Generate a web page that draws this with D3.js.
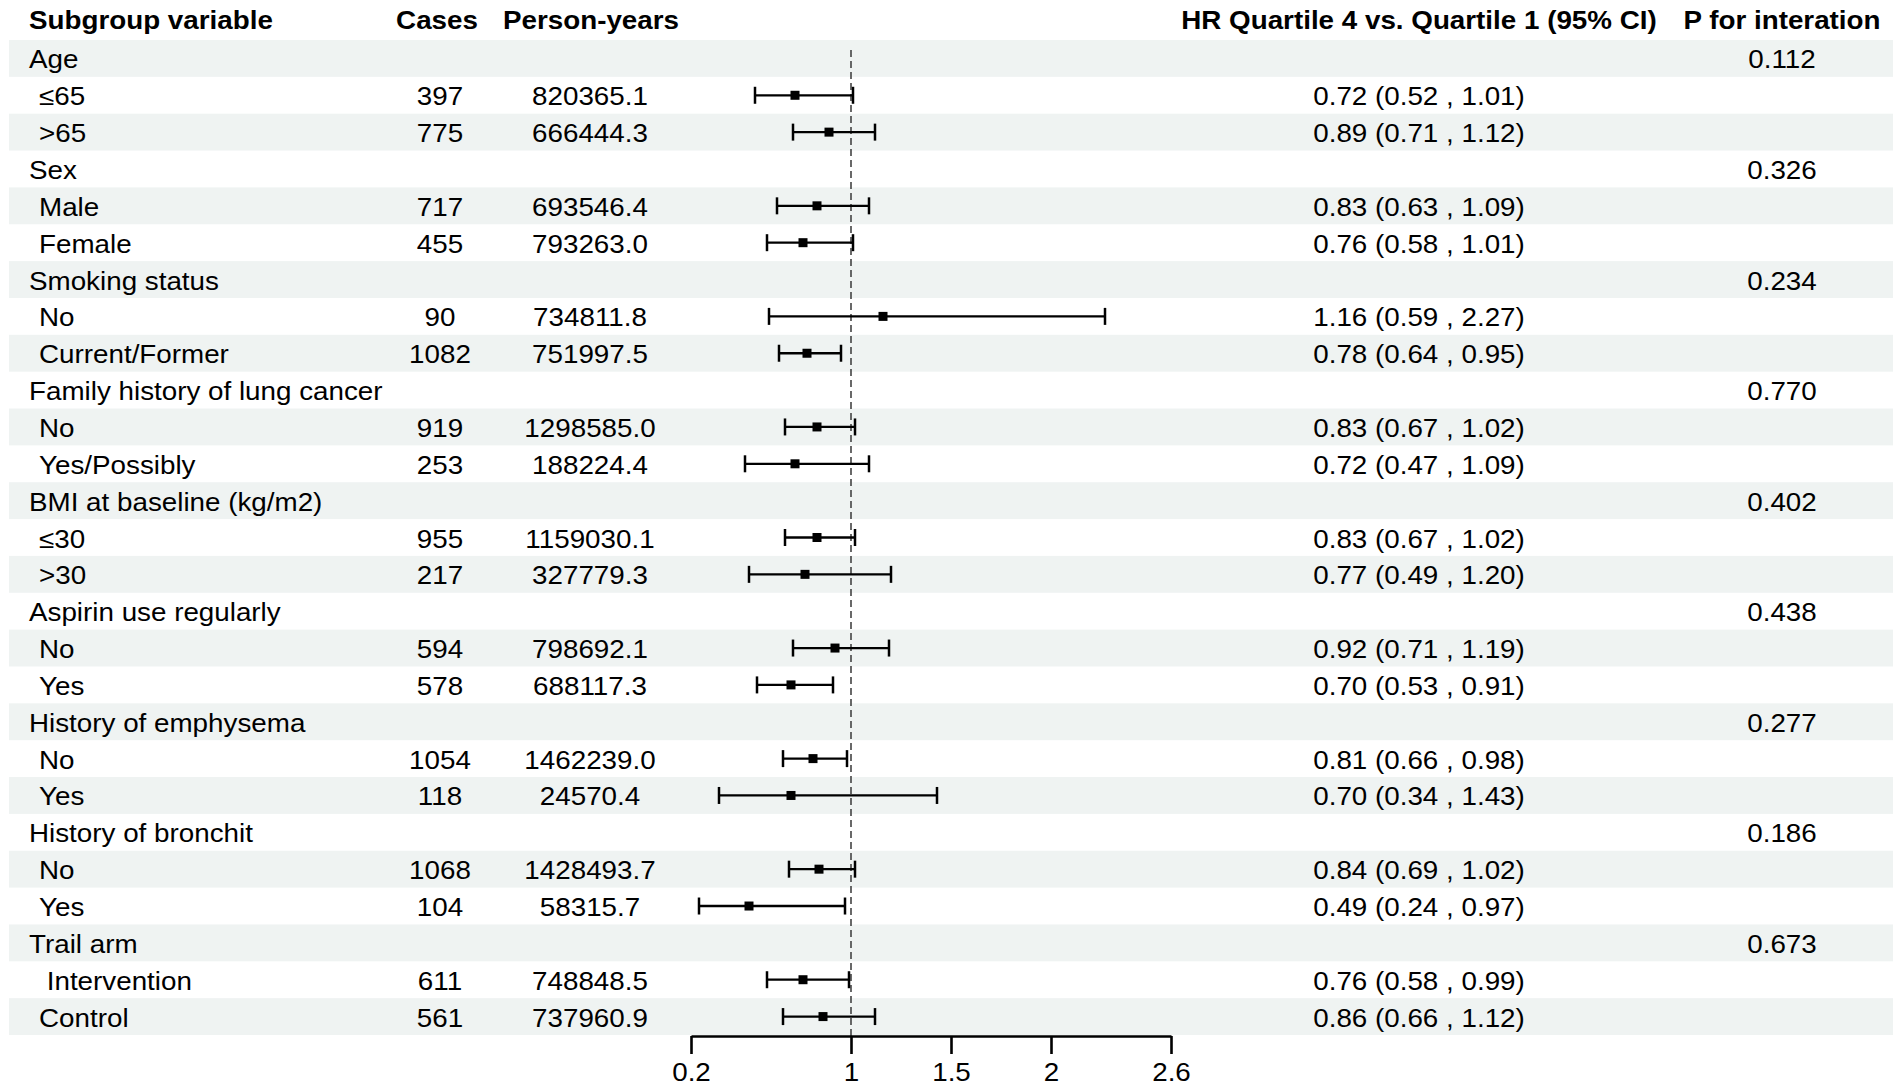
<!DOCTYPE html>
<meta charset="utf-8">
<script src="https://d3js.org/d3.v7.min.js"></script>

<style>
body{margin:0;background:#fff;}
text{font-family:"Liberation Sans",Arial,Helvetica,sans-serif;fill:#000;white-space:pre;}
</style>

<body>
<script>
// table data
var headers=["Subgroup variable","Cases","Person-years","HR Quartile 4 vs. Quartile 1 (95% CI)","P for interation"];
var groups=["Age","Sex","Smoking status","Family history of lung cancer","BMI at baseline (kg/m2)",
            "Aspirin use regularly","History of emphysema","History of bronchit","Trail arm"];
var pInter=["0.112","0.326","0.234","0.770","0.402","0.438","0.277","0.186","0.673"];
var subLabels=["≤65",">65","Male","Female","No","Current/Former","No","Yes/Possibly","≤30",">30",
               "No","Yes","No","Yes","No","Yes"," Intervention","Control"];
var cases=[397,775,717,455,90,1082,919,253,955,217,594,578,1054,118,1068,104,611,561];
var personYears=["820365.1","666444.3","693546.4","793263.0","734811.8","751997.5","1298585.0","188224.4","1159030.1",
                 "327779.3","798692.1","688117.3","1462239.0","24570.4","1428493.7","58315.7","748848.5","737960.9"];
var hr=[0.72,0.89,0.83,0.76,1.16,0.78,0.83,0.72,0.83,0.77,0.92,0.70,0.81,0.70,0.84,0.49,0.76,0.86];
var lo=[0.52,0.71,0.63,0.58,0.59,0.64,0.67,0.47,0.67,0.49,0.71,0.53,0.66,0.34,0.69,0.24,0.58,0.66];
var hi=[1.01,1.12,1.09,1.01,2.27,0.95,1.02,1.09,1.02,1.20,1.19,0.91,0.98,1.43,1.02,0.97,0.99,1.12];
var ticks=[0.2,1,1.5,2,2.6];
</script>

<script>
var W=1902,H=1090;
var fs=25.5, sx=1.09;   // text in the figure is a bit wider than plain Arial

var svg=d3.select("body").append("svg")
    .attr("width",W)
    .attr("height",H);

// one row per group header, then its two subgroups
var rows=[];
groups.forEach(function(g,i){
  rows.push({type:"group",label:g,p:pInter[i]});
  for(var k=0;k<2;k++){
    var j=i*2+k;
    rows.push({type:"sub",label:subLabels[j],cases:cases[j],py:personYears[j],hr:hr[j],lo:lo[j],hi:hi[j]});
  }
});

var yscale=d3.scaleBand().domain(d3.range(rows.length)).range([40,1035]);
var xscale=d3.scaleLinear().domain([0.2,2.6]).range([691,1171]);
var f2=d3.format(".2f");
var mid=function(i){return yscale(i)+yscale.bandwidth()/2;};

function txt(g,x,y,s,anchor,bold){
  return g.append("text")
    .attr("transform","translate("+x+","+y+") scale("+sx+",1)")
    .attr("text-anchor",anchor)
    .style("font-size",fs+"px")
    .style("font-weight",bold?"bold":"normal")
    .text(s);
}

// striped background
svg.selectAll("rect.band")
  .data(rows)
  .enter()
  .filter(function(d,i){return i%2==0;})
  .append("rect")
  .attr("class","band")
  .attr("x",9)
  .attr("y",function(d){return yscale(rows.indexOf(d));})
  .attr("width",1884)
  .attr("height",yscale.bandwidth())
  .attr("fill","#eff3f2");

// header
var head=svg.append("g");
txt(head,29,29,headers[0],"start",true);
txt(head,437,29,headers[1],"middle",true);
txt(head,591,29,headers[2],"middle",true);
txt(head,1419,29,headers[3],"middle",true);
txt(head,1782,29,headers[4],"middle",true);

// table text
var body=svg.append("g");
rows.forEach(function(d,i){
  var y=mid(i)+10;
  if(d.type=="group"){
    txt(body,29,y,d.label,"start");
    txt(body,1782,y,d.p,"middle");
  } else {
    txt(body,39,y,d.label,"start");
    txt(body,440,y,d.cases,"middle");
    txt(body,590,y,d.py,"middle");
    txt(body,1419,y,f2(d.hr)+" ("+f2(d.lo)+" , "+f2(d.hi)+")","middle");
  }
});

// reference line at HR = 1
svg.append("line")
  .attr("x1",xscale(1)).attr("x2",xscale(1))
  .attr("y1",50).attr("y2",1036)
  .attr("stroke","#444")
  .attr("stroke-width",1.6)
  .attr("stroke-dasharray","7,4");

// confidence intervals
var ci=svg.selectAll("g.ci")
  .data(rows.map(function(d,i){d.i=i;return d;}).filter(function(d){return d.type=="sub";}))
  .enter()
  .append("g")
  .attr("class","ci");

ci.append("line")
  .attr("x1",function(d){return xscale(d.lo);})
  .attr("x2",function(d){return xscale(d.hi);})
  .attr("y1",function(d){return mid(d.i);})
  .attr("y2",function(d){return mid(d.i);})
  .attr("stroke","#000").attr("stroke-width",2.3);
ci.append("line")
  .attr("x1",function(d){return xscale(d.lo);})
  .attr("x2",function(d){return xscale(d.lo);})
  .attr("y1",function(d){return mid(d.i)-8.5;})
  .attr("y2",function(d){return mid(d.i)+8.5;})
  .attr("stroke","#000").attr("stroke-width",2.5);
ci.append("line")
  .attr("x1",function(d){return xscale(d.hi);})
  .attr("x2",function(d){return xscale(d.hi);})
  .attr("y1",function(d){return mid(d.i)-8.5;})
  .attr("y2",function(d){return mid(d.i)+8.5;})
  .attr("stroke","#000").attr("stroke-width",2.5);
ci.append("rect")
  .attr("x",function(d){return xscale(d.hr)-4.5;})
  .attr("y",function(d){return mid(d.i)-4.5;})
  .attr("width",9).attr("height",9)
  .attr("fill","#000");

// x axis
var xaxis=d3.axisBottom(xscale)
  .tickValues(ticks)
  .tickFormat(d3.format(""))
  .tickSize(18)
  .tickSizeOuter(0)
  .tickPadding(9);
var ax=svg.append("g")
  .attr("transform","translate(0,1036)")
  .call(xaxis);
ax.select(".domain").attr("stroke","#000").attr("stroke-width",2.6);
ax.selectAll(".tick line").attr("stroke","#000").attr("stroke-width",2.6);
ax.selectAll(".tick text")
  .attr("fill","#000")
  .style("font-size",fs+"px")
  .style("font-family","'Liberation Sans',Arial,sans-serif")
  .attr("transform","scale("+sx+",1)");
</script>
</body>
</html>
